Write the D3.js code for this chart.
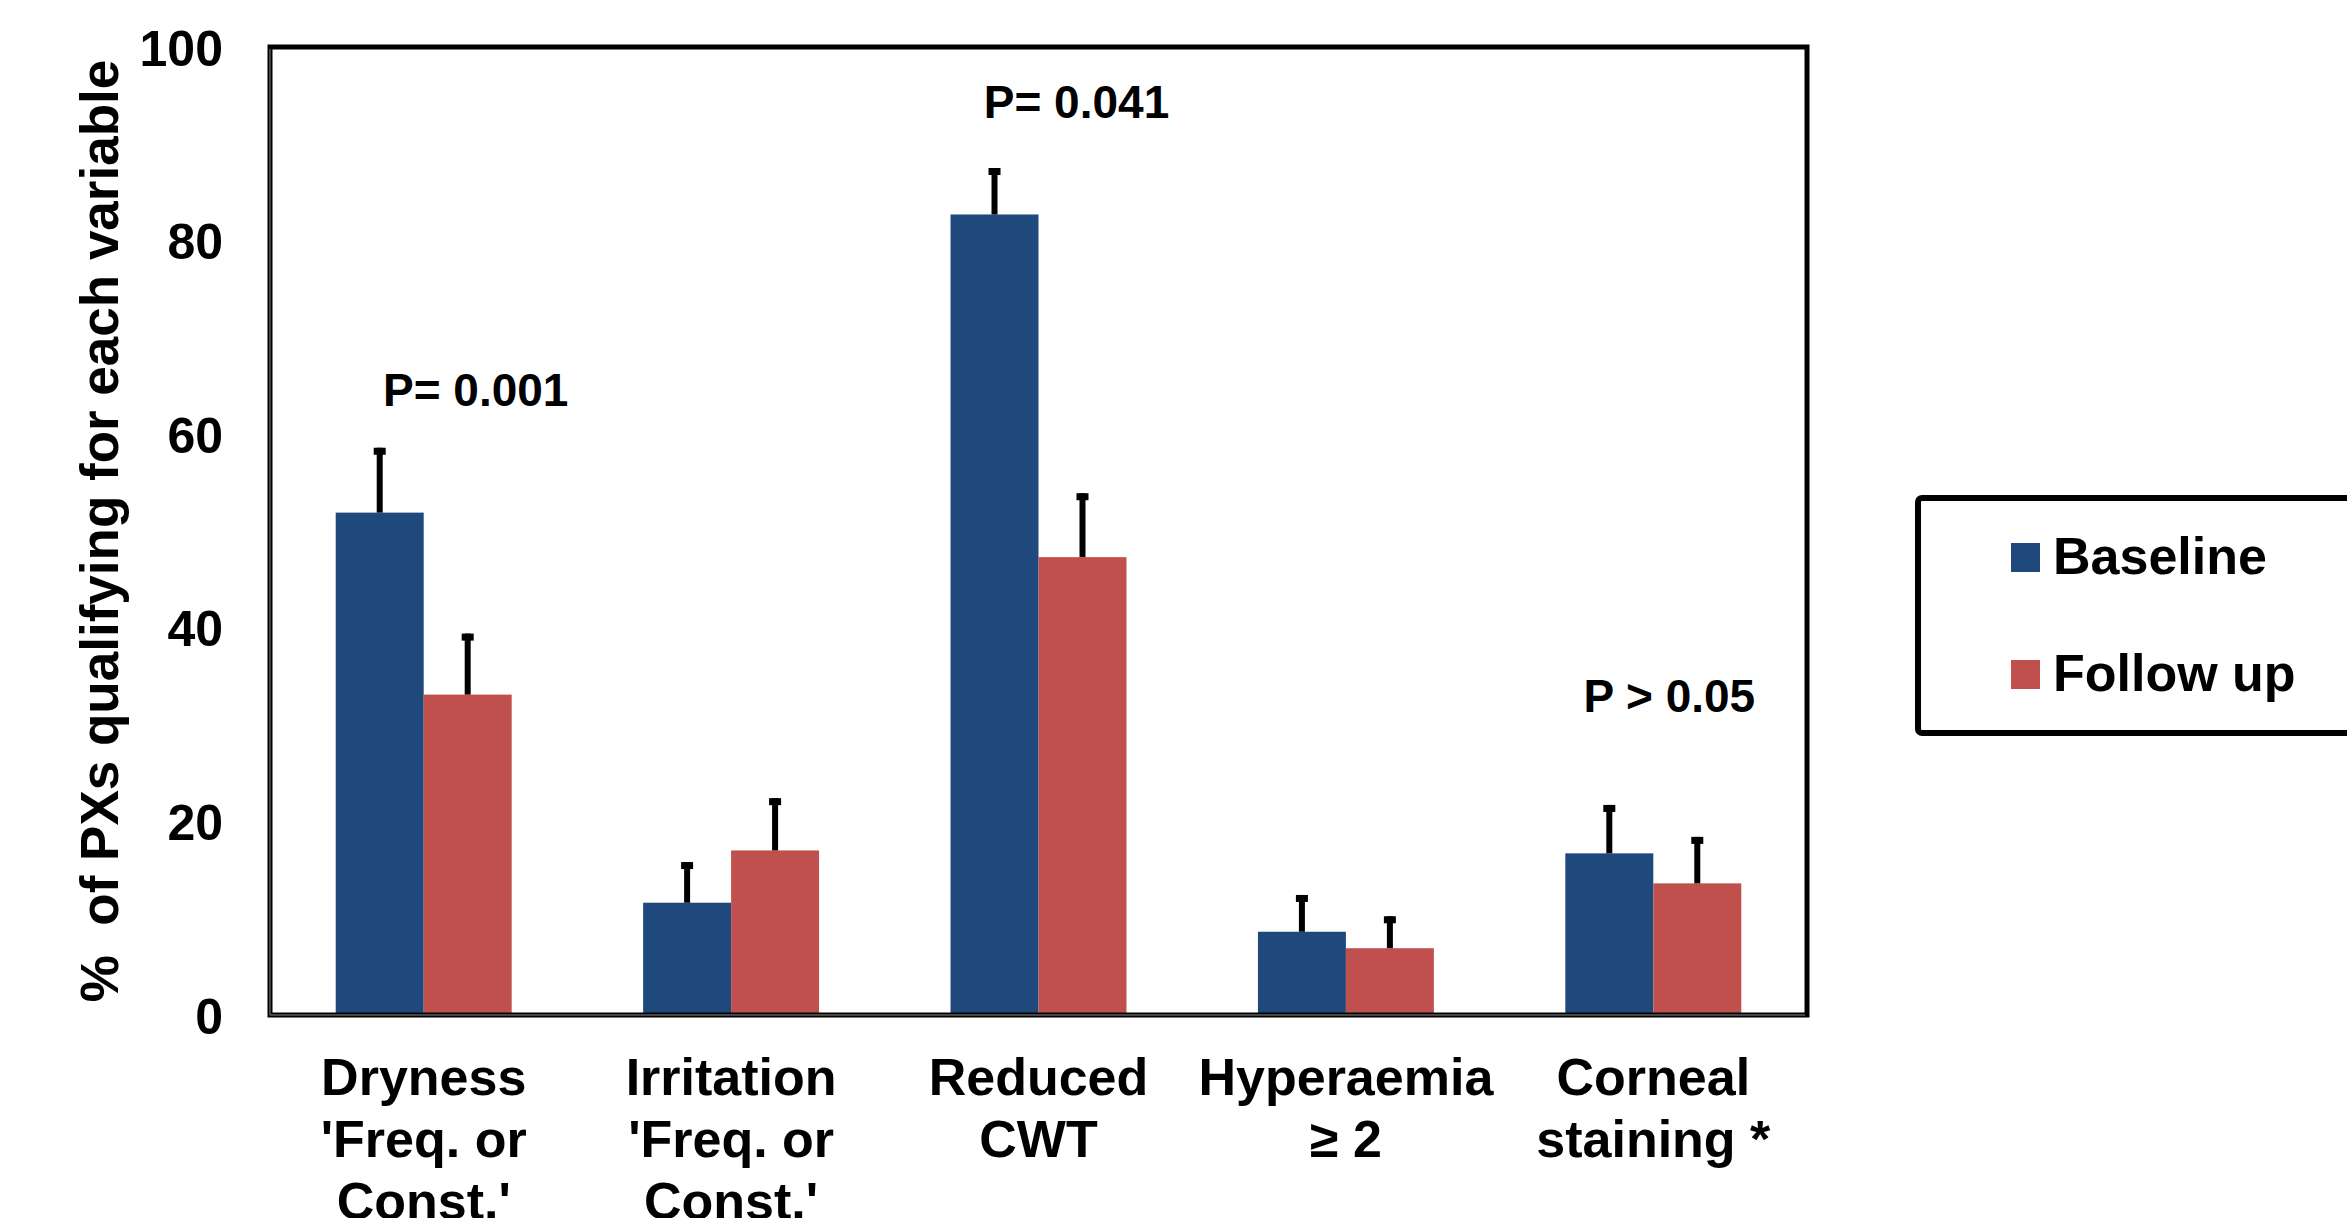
<!DOCTYPE html>
<html>
<head>
<meta charset="utf-8">
<script src="https://cdn.jsdelivr.net/npm/d3@7/dist/d3.min.js"></script>
<style>
  html, body { margin: 0; padding: 0; background: #ffffff; }
  svg { display: block; }
  text { font-family: "Liberation Sans", Arial, Helvetica, sans-serif; font-weight: bold; fill: #000; }
</style>
</head>
<body>
<svg id="chart" width="2347" height="1218"></svg>
<script>
// Categories (line breaks mark the wrapped axis labels)
const categories = [
  "Dryness\n'Freq. or\nConst.'",
  "Irritation\n'Freq. or\nConst.'",
  "Reduced\nCWT",
  "Hyperaemia\n≥ 2",
  "Corneal\nstaining *"
];
const seriesNames = ["Baseline", "Follow up"];
// Percentage of PXs qualifying for each variable
const baselineValues = [51.9, 11.6, 82.7, 8.6, 16.7];
const followUpValues = [33.1, 17.0, 47.3, 6.9, 13.6];
// Upper error (standard error) for each bar
const baselineErrors = [6.7, 4.2, 4.8, 3.8, 5.0];
const followUpErrors = [6.3, 5.4, 6.6, 3.3, 4.8];
// Significance notes per category
const pLabels = ["P= 0.001", null, "P= 0.041", null, "P > 0.05"];
const yTicks = [0, 20, 40, 60, 80, 100];
const colors = ["#1F497D", "#C0504D"];

const svg = d3.select("#chart");

const plot = { left: 270, right: 1807, top: 47, bottom: 1015 };

const x = d3.scaleBand().domain(categories).range([plot.left, plot.right]).paddingInner(0).paddingOuter(0);
const xSub = d3.scaleBand().domain(seriesNames).range([0, x.bandwidth()]).paddingInner(0).paddingOuter(0.747);
const y = d3.scaleLinear().domain([0, 100]).range([plot.bottom, plot.top]);

const rows = categories.map((c, i) => ({
  cat: c,
  bars: [
    { s: seriesNames[0], v: baselineValues[i], e: baselineErrors[i] },
    { s: seriesNames[1], v: followUpValues[i], e: followUpErrors[i] }
  ]
}));

// Bars
const groups = svg.append("g").selectAll("g").data(rows).join("g")
  .attr("transform", d => `translate(${x(d.cat)},0)`);

groups.selectAll("rect.bar").data(d => d.bars).join("rect")
  .attr("class", "bar")
  .attr("x", d => xSub(d.s))
  .attr("width", xSub.bandwidth())
  .attr("y", d => y(d.v))
  .attr("height", d => y(0) - y(d.v))
  .attr("fill", (d, i) => colors[i]);

// Upper error bars with flat caps
const err = groups.selectAll("g.err").data(d => d.bars).join("g").attr("class", "err");
err.append("line")
  .attr("x1", d => xSub(d.s) + xSub.bandwidth() / 2)
  .attr("x2", d => xSub(d.s) + xSub.bandwidth() / 2)
  .attr("y1", d => y(d.v))
  .attr("y2", d => y(d.v + d.e))
  .attr("stroke", "#000").attr("stroke-width", 6);
err.append("rect")
  .attr("x", d => xSub(d.s) + xSub.bandwidth() / 2 - 6)
  .attr("y", d => y(d.v + d.e))
  .attr("width", 12).attr("height", 7)
  .attr("fill", "#000");

// Frame around the plot area
svg.append("rect")
  .attr("x", plot.left).attr("y", plot.top)
  .attr("width", plot.right - plot.left).attr("height", plot.bottom - plot.top)
  .attr("fill", "none").attr("stroke", "#000").attr("stroke-width", 5);
// Inner grey rule on the left and bottom axis lines
svg.append("path")
  .attr("d", `M${plot.left},${plot.top + 2}V${plot.bottom}H${plot.right - 2}`)
  .attr("fill", "none").attr("stroke", "#8a8a8a").attr("stroke-width", 1);

// Y axis
const yAxis = svg.append("g")
  .attr("transform", `translate(${plot.left - 47},0)`)
  .call(d3.axisLeft(y).tickValues(yTicks).tickSize(0).tickPadding(0));
yAxis.select(".domain").remove();
yAxis.selectAll("text")
  .attr("x", 0).attr("dy", "0.36em")
  .style("font-size", "50px").style("font-family", '"Liberation Sans", Arial, sans-serif').style("font-weight", "bold");

// Y axis title (double space after % kept)
svg.append("text")
  .attr("transform", `translate(118,${(plot.top + plot.bottom) / 2}) rotate(-90)`)
  .attr("text-anchor", "middle")
  .style("font-size", "53px")
  .style("white-space", "pre")
  .text("%  of PXs qualifying for each variable");

// X axis labels (multi-line)
const xAxis = svg.append("g")
  .attr("transform", `translate(0,${plot.bottom})`)
  .call(d3.axisBottom(x).tickSize(0).tickFormat(""));
xAxis.select(".domain").remove();
xAxis.selectAll(".tick").each(function (d) {
  const t = d3.select(this).append("text")
    .attr("text-anchor", "middle")
    .style("font-size", "52px");
  d.split("\n").forEach((line, i) => {
    t.append("tspan").attr("x", 0).attr("y", 80 + i * 62).text(line);
  });
});

// Significance notes
const pOffsets = [
  { dx: 52, yv: 62.9 },
  null,
  { dx: 38, yv: 92.7 },
  null,
  { dx: 16, yv: 31.3 }
];
categories.forEach((c, i) => {
  if (!pLabels[i]) return;
  svg.append("text")
    .attr("x", x(c) + x.bandwidth() / 2 + pOffsets[i].dx)
    .attr("y", y(pOffsets[i].yv))
    .attr("text-anchor", "middle")
    .style("font-size", "46px")
    .text(pLabels[i]);
});

// Legend
const legend = svg.append("g");
legend.append("rect")
  .attr("x", 1918).attr("y", 498).attr("width", 520).attr("height", 235)
  .attr("rx", 4)
  .attr("fill", "#fff").attr("stroke", "#000").attr("stroke-width", 6);
seriesNames.forEach((s, i) => {
  legend.append("rect")
    .attr("x", 2011).attr("y", 543 + i * 117).attr("width", 29).attr("height", 29)
    .attr("fill", colors[i]);
  legend.append("text")
    .attr("x", 2053).attr("y", 574 + i * 117)
    .style("font-size", "52px")
    .text(s);
});
</script>
</body>
</html>
